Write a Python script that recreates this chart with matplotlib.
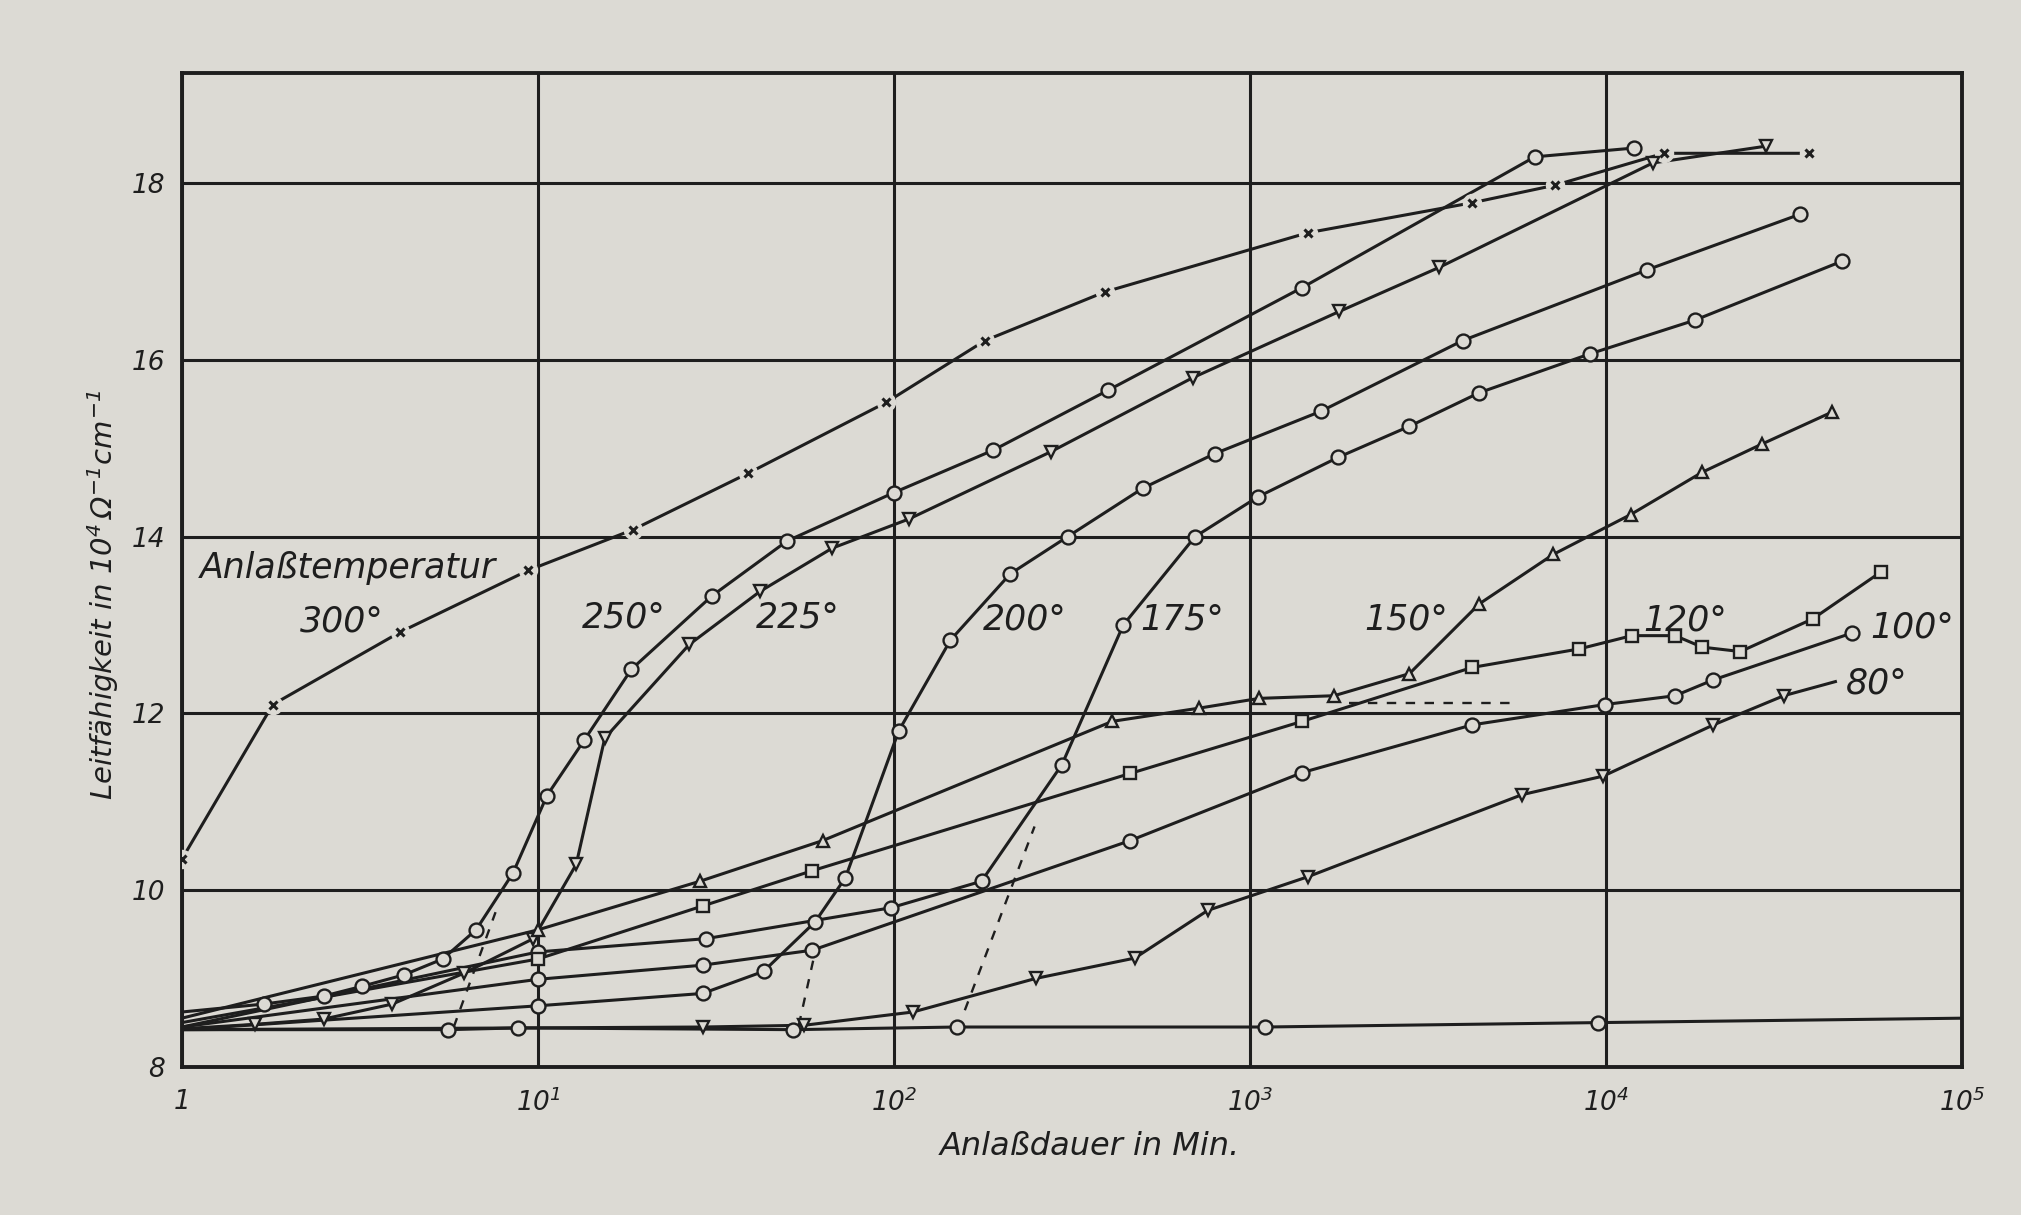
import matplotlib.pyplot as plt
from matplotlib.ticker import NullLocator

plt.rcParams['font.family'] = ['DejaVu Sans']
plt.rcParams['font.style'] = 'italic'
plt.rcParams['mathtext.default'] = 'it'

paper = '#dcdad4'
ink = '#1e1e1e'

# Anlassdauer (min) / Leitfaehigkeit (10^4 Ohm^-1 cm^-1)
t300_x = [1, 1.8, 4.1, 9.4, 18.5, 39, 95, 180, 390, 1450, 4200, 7200, 14500, 37000]
t300_y = [10.35, 12.1, 12.92, 13.62, 14.08, 14.72, 15.52, 16.22, 16.77, 17.44, 17.78, 17.98, 18.34, 18.34]

t250_x = [1, 1.7, 2.5, 3.2, 4.2, 5.4, 6.7, 8.5, 10.6, 13.5, 18.3, 30.8, 50, 100, 190, 400, 1400, 6300, 12000]
t250_y = [8.62, 8.71, 8.80, 8.91, 9.04, 9.22, 9.55, 10.19, 11.07, 11.7, 12.5, 13.33, 13.95, 14.5, 14.98, 15.66, 16.82, 18.3, 18.4]

t225_x = [1, 1.6, 2.5, 3.9, 6.2, 9.7, 12.8, 15.4, 26.6, 42, 67, 110, 275, 690, 1780, 3400, 13500, 28000]
t225_y = [8.43, 8.48, 8.54, 8.71, 9.06, 9.45, 10.29, 11.72, 12.78, 13.38, 13.87, 14.2, 14.96, 15.8, 16.55, 17.05, 18.23, 18.42]

t200_x = [1, 10, 29, 43, 60, 73, 103, 144, 212, 307, 500, 795, 1580, 3950, 13000, 35000]
t200_y = [8.42, 8.69, 8.83, 9.08, 9.64, 10.14, 11.8, 12.83, 13.58, 14.0, 14.55, 14.94, 15.42, 16.22, 17.02, 17.65]

t175_x = [1, 10, 29.6, 98, 176, 296, 440, 700, 1050, 1770, 2800, 4400, 9000, 17700, 46000]
t175_y = [8.45, 9.3, 9.45, 9.8, 10.1, 11.42, 13.0, 14.0, 14.45, 14.9, 15.25, 15.63, 16.07, 16.45, 17.12]

t150_x = [1, 10, 28.5, 63, 410, 720, 1060, 1720, 2800, 4400, 7100, 11700, 18600, 27400, 43000]
t150_y = [8.55, 9.55, 10.1, 10.56, 11.91, 12.06, 12.17, 12.2, 12.45, 13.24, 13.8, 14.25, 14.73, 15.05, 15.41]

t120_x = [1, 10, 29, 59, 460, 1400, 4200, 8400, 11800, 15600, 18600, 23800, 38000, 59000]
t120_y = [8.5, 9.22, 9.82, 10.22, 11.32, 11.91, 12.52, 12.73, 12.88, 12.88, 12.75, 12.7, 13.07, 13.6]

t100_x = [1, 10, 29, 59, 460, 1400, 4200, 9900, 15600, 20000, 49000]
t100_y = [8.45, 8.99, 9.15, 9.32, 10.56, 11.33, 11.87, 12.1, 12.2, 12.38, 12.91]

t80_x = [1, 29, 56, 113, 250, 474, 760, 1450, 5800, 9800, 20000, 31500, 44000]
t80_y = [8.42, 8.45, 8.47, 8.62, 9.0, 9.23, 9.77, 10.15, 11.08, 11.29, 11.87, 12.2, 12.36]

# untempered reference line along the bottom
base_x = [1, 5.6, 8.8, 52, 150, 1100, 9500, 100000]
base_y = [8.42, 8.42, 8.44, 8.42, 8.45, 8.45, 8.5, 8.55]

# dashed onset lines
onset_x = [[5.8, 7.6], [54, 60], [158, 248], [1900, 5500]]
onset_y = [[8.45, 9.75], [8.47, 9.3], [8.64, 10.72], [12.12, 12.12]]

fig = plt.figure(figsize=(20.21, 12.15), dpi=100, facecolor=paper)
ax = fig.add_axes([0.090, 0.122, 0.881, 0.818])
ax.set_facecolor(paper)
ax.set_xscale('log')
ax.set_xlim(1, 1e5)
ax.set_ylim(8, 19.25)
ax.set_xticks([1, 10, 100, 1000, 1e4, 1e5])
ax.set_xticklabels(['1', '$10^1$', '$10^2$', '$10^3$', '$10^4$', '$10^5$'])
ax.xaxis.set_minor_locator(NullLocator())
ax.set_yticks([8, 10, 12, 14, 16, 18])
ax.tick_params(length=0, labelsize=19, colors=ink)
ax.tick_params(axis='x', pad=16)
ax.tick_params(axis='y', pad=12)
ax.grid(True, color=ink, lw=2.2)
ax.set_axisbelow(True)
for s in ax.spines.values():
    s.set_linewidth(2.8)
    s.set_color(ink)


def curve(x, y, marker, ms, first=1, last=None, mew=1.7):
    ax.plot(x, y, color=ink, lw=2.2, zorder=3)
    ax.plot(x[first:last], y[first:last], ls='none', marker=marker, ms=ms,
            mfc=paper, mec=ink, mew=mew, zorder=4)


# 300 deg: crosses with a small gap in the line round each point
ax.plot(t300_x, t300_y, color=ink, lw=2.2, zorder=3)
ax.plot(t300_x, t300_y, ls='none', marker='o', ms=13, mfc=paper, mec=paper, zorder=4)
ax.plot(t300_x, t300_y, ls='none', marker='x', ms=6, mec=ink, mew=2.2, zorder=5)

curve(t250_x, t250_y, 'o', 10)
curve(t225_x, t225_y, 'v', 8)
curve(t200_x, t200_y, 'o', 10)
curve(t175_x, t175_y, 'o', 10)
curve(t150_x, t150_y, '^', 8)
curve(t120_x, t120_y, 's', 8)
curve(t100_x, t100_y, 'o', 10)
curve(t80_x, t80_y, 'v', 8, last=-1)
curve(base_x, base_y, 'o', 10, last=-1)

for xs, ys in zip(onset_x, onset_y):
    ax.plot(xs, ys, color=ink, lw=1.7, ls=(0, (4, 4)), zorder=3)

lab = dict(fontsize=25, color=ink, va='center', ha='left', zorder=6)
ax.text(1.12, 13.65, 'Anlaßtemperatur', **lab)
ax.text(2.15, 13.04, '300°', **lab)
ax.text(13.3, 13.09, '250°', **lab)
ax.text(41, 13.09, '225°', **lab)
ax.text(178, 13.06, '200°', **lab)
ax.text(490, 13.06, '175°', **lab)
ax.text(2090, 13.06, '150°', **lab)
ax.text(12700, 13.05, '120°', **lab)
ax.text(55000, 12.97, '100°', **lab)
ax.text(47000, 12.34, '80°', **lab)

fig.text(0.539, 0.056, 'Anlaßdauer in Min.', fontsize=23, color=ink,
         ha='center', va='center')
fig.text(0.051, 0.51, r'Leitfähigkeit in $10^4\,\Omega^{-1}cm^{-1}$', fontsize=21,
         color=ink, rotation=90, ha='center', va='center')

fig.savefig('out.png', dpi=100, facecolor=paper)
